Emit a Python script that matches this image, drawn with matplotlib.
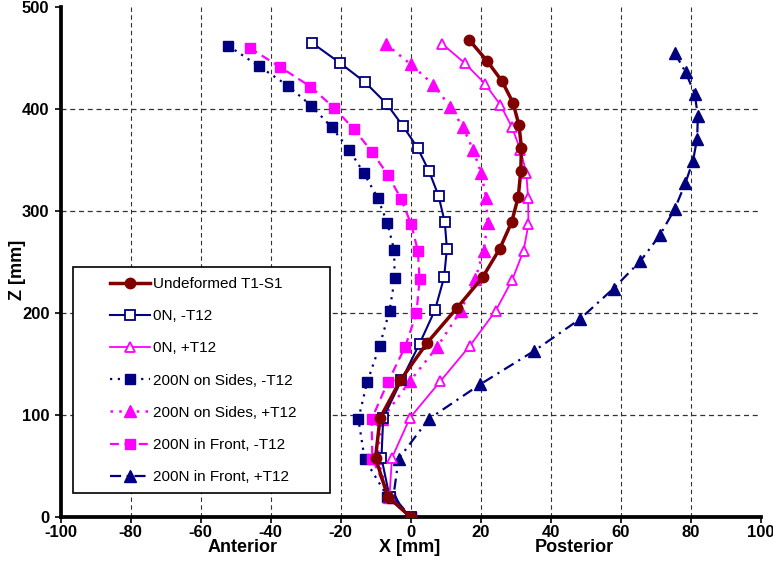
import matplotlib
matplotlib.use("Agg")
import matplotlib.pyplot as plt
from matplotlib.patches import Rectangle

plt.rcParams['font.family'] = ['Liberation Sans', 'DejaVu Sans']
plt.rcParams['axes.unicode_minus'] = False

# X [mm], Z [mm] for each curve (T1 at top ... S1 at bottom)
undeformed_x = [16.7, 21.9, 26.2, 29.3, 31.0, 31.7, 31.5, 30.8, 28.9, 25.5, 20.6, 13.3, 4.8, -2.9, -8.7, -10.0, -6.5, 0]
undeformed_z = [468, 447, 427, 406, 384, 362, 339, 314, 289, 263, 235, 205, 171, 134, 97, 58, 20, 0]

n0_minus_x = [-28.2, -20.1, -12.9, -6.8, -2.1, 2.0, 5.3, 8.0, 9.8, 10.4, 9.6, 7.0, 2.6, -2.6, -7.8, -8.3, -6.0, 0]
n0_minus_z = [465, 445, 426, 405, 383, 362, 339, 315, 289, 263, 235, 203, 170, 134, 97, 58, 20, 0]

n0_plus_x = [9.0, 15.5, 21.2, 25.7, 29.0, 31.4, 33.1, 33.6, 33.7, 32.3, 29.0, 24.3, 17.0, 8.5, -0.2, -5.3, -6.0, 0]
n0_plus_z = [464, 445, 425, 404, 382, 360, 337, 313, 287, 261, 232, 202, 168, 133, 97, 58, 20, 0]

sides_minus_x = [-52.1, -43.3, -35.1, -28.3, -22.5, -17.5, -13.3, -9.4, -6.6, -4.7, -4.5, -6.0, -8.8, -12.4, -14.9, -13.1, -6.6, 0]
sides_minus_z = [462, 442, 423, 403, 382, 360, 337, 313, 288, 262, 234, 202, 168, 132, 96, 57, 20, 0]

sides_plus_x = [-7.1, 0.0, 6.5, 11.4, 15.0, 17.9, 20.2, 21.6, 22.0, 20.9, 18.5, 14.3, 7.7, -0.2, -8.1, -9.5, -6.2, 0]
sides_plus_z = [464, 444, 424, 402, 382, 360, 337, 313, 288, 261, 233, 202, 167, 133, 96, 58, 20, 0]

front_minus_x = [-46.0, -37.2, -28.6, -21.8, -16.1, -11.0, -6.4, -2.7, 0.2, 2.1, 2.6, 1.7, -1.5, -6.5, -11.1, -10.9, -6.0, 0]
front_minus_z = [460, 441, 422, 401, 380, 358, 335, 312, 287, 261, 233, 200, 167, 132, 96, 57, 20, 0]

front_plus_x = [75.5, 78.6, 81.2, 82.1, 81.9, 80.7, 78.5, 75.5, 71.2, 65.7, 58.0, 48.4, 35.4, 19.9, 5.2, -3.4, -4.9, 0]
front_plus_z = [455, 436, 415, 393, 371, 349, 327, 302, 276, 251, 224, 194, 163, 130, 96, 57, 20, 0]

labels = ['Undeformed T1-S1', '0N, -T12', '0N, +T12', '200N on Sides, -T12',
          '200N on Sides, +T12', '200N in Front, -T12', '200N in Front, +T12']

navy = '#000080'
mag = '#FF00FF'
dred = '#800000'

W, H = 773, 575
fig = plt.figure(figsize=(W / 100, H / 100), dpi=100)
ax = fig.add_axes([60.5 / W, 58 / H, 700 / W, 510 / H])

# grid (inner lines only)
for gx in range(-80, 100, 20):
    ax.axvline(gx, color='#333333', lw=0.8, ls=(0, (4, 3)), zorder=0)
for gz in range(100, 500, 100):
    ax.axhline(gz, color='#333333', lw=0.9, ls=(0, (4, 3)), zorder=0)

ax.plot(undeformed_x, undeformed_z, color=dred, lw=2.5, marker='o', ms=7.5,
        mfc=dred, mec=dred, label=labels[0], zorder=5)
ax.plot(n0_minus_x, n0_minus_z, color=navy, lw=1.5, marker='s', ms=6.5,
        mfc='white', mec=navy, mew=1.3, label=labels[1], zorder=4)
ax.plot(n0_plus_x, n0_plus_z, color=mag, lw=1.3, marker='^', ms=7.5,
        mfc='white', mec=mag, mew=1.3, label=labels[2], zorder=4)
ax.plot(sides_minus_x, sides_minus_z, color=navy, lw=1.6, ls=(0, (1, 2.5)), marker='s', ms=7.5,
        mfc=navy, mec=navy, label=labels[3], zorder=3)
ax.plot(sides_plus_x, sides_plus_z, color=mag, lw=1.8, ls=(0, (1, 2.5)), marker='^', ms=8,
        mfc=mag, mec=mag, label=labels[4], zorder=3)
ax.plot(front_minus_x, front_minus_z, color=mag, lw=1.6, ls=(0, (4, 2.5)), marker='s', ms=7.5,
        mfc=mag, mec=mag, label=labels[5], zorder=3)
ax.plot(front_plus_x, front_plus_z, color=navy, lw=1.6, ls=(0, (5, 2.5, 1, 2.5)), marker='^', ms=8,
        mfc=navy, mec=navy, label=labels[6], zorder=3)

ax.set_xlim(-100, 100)
ax.set_ylim(0, 500)
ax.set_xticks(range(-100, 101, 20))
ax.set_yticks(range(0, 501, 100))
for lab in ax.get_xticklabels() + ax.get_yticklabels():
    lab.set_fontweight('bold')
    lab.set_fontsize(12)
ax.tick_params(direction='out', length=4, width=1.2)
ax.tick_params(axis='x', pad=2)
ax.tick_params(axis='y', pad=4)

for s in ['top', 'right']:
    ax.spines[s].set_visible(False)
for s in ['left', 'bottom']:
    ax.spines[s].set_linewidth(2.7)

ax.set_ylabel('Z [mm]', fontsize=13, fontweight='bold')
ax.yaxis.set_label_coords((26 - 60.5) / 700, (517 - 270) / 510)

row_y = 1 - 548 / H
fig.text(410 / W, row_y, 'X [mm]', ha='center', va='center', fontsize=13, fontweight='bold')
fig.text(243 / W, row_y, 'Anterior', ha='center', va='center', fontsize=13, fontweight='bold')
fig.text(574 / W, row_y, 'Posterior', ha='center', va='center', fontsize=13, fontweight='bold')

# legend box drawn separately (wide side margins as in the source chart)
box = Rectangle((73 / W, 1 - 493 / H), (330 - 73) / W, (493 - 267) / H,
                transform=fig.transFigure, facecolor='white',
                edgecolor='black', lw=1.2, zorder=9, clip_on=False)
ax.add_patch(box)
leg = ax.legend(loc='upper left', bbox_to_anchor=(110 / W, 1 - 277 / H),
                bbox_transform=fig.transFigure, fontsize=11, frameon=False,
                labelspacing=1.19, handlelength=2.6, handletextpad=0.2,
                borderpad=0, borderaxespad=0)
leg.set_zorder(10)

fig.savefig('out.png', dpi=100)
